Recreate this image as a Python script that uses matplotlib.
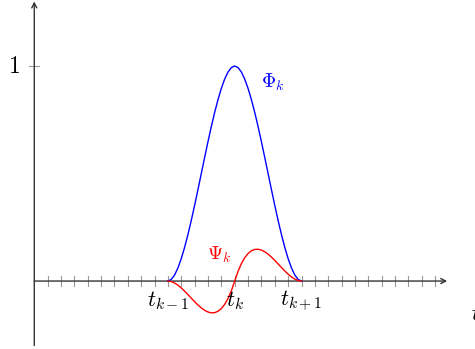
import numpy as np
import matplotlib.pyplot as plt

plt.rcParams['mathtext.fontset'] = 'cm'

# grid nodes t_{k-1}, t_k, t_{k+1}
nodes = [2.0, 3.0, 4.0]
node_labels = [r'$t_{k-1}$', r'$t_k$', r'$t_{k+1}$']

# sample points along [t_{k-1}, t_{k+1}] (step 0.05)
t = np.arange(2.0, 4.0001, 0.05)

# Phi_k
phi = [0.0, 0.00725, 0.028, 0.06075, 0.104, 0.15625, 0.216, 0.28175, 0.352, 0.42525,
       0.5, 0.57475, 0.648, 0.71825, 0.784, 0.84375, 0.896, 0.93925, 0.972, 0.99275,
       1.0,
       0.99275, 0.972, 0.93925, 0.896, 0.84375, 0.784, 0.71825, 0.648, 0.57475, 0.5,
       0.42525, 0.352, 0.28175, 0.216, 0.15625, 0.104, 0.06075, 0.028, 0.00725, 0.0]

# Psi_k
psi = [0.0, -0.002375, -0.009, -0.019125, -0.032, -0.046875, -0.063, -0.079625, -0.096,
       -0.111375, -0.125, -0.136125, -0.144, -0.147875, -0.147, -0.140625, -0.128,
       -0.108375, -0.081, -0.045125,
       0.0,
       0.045125, 0.081, 0.108375, 0.128, 0.140625, 0.147, 0.147875, 0.144, 0.136125,
       0.125, 0.111375, 0.096, 0.079625, 0.063, 0.046875, 0.032, 0.019125, 0.009,
       0.002375, 0.0]

# minor ticks on the t axis
xticks = np.arange(0.2, 6.01, 0.2)

fig = plt.figure(figsize=(4.75, 3.49), dpi=100)
ax = fig.add_axes([0, 0, 1, 1])
ax.set_xlim(-0.513, 6.597)
ax.set_ylim(-0.316, 1.307)
ax.axis('off')

axis_col = '#333333'
# axes with arrows
ax.annotate('', xy=(6.18, 0), xytext=(0, 0),
            arrowprops=dict(arrowstyle='->,head_length=0.35,head_width=0.18',
                            lw=1.0, color=axis_col, shrinkA=0, shrinkB=0))
ax.annotate('', xy=(0, 1.30), xytext=(0, -0.30),
            arrowprops=dict(arrowstyle='->,head_length=0.35,head_width=0.18',
                            lw=1.0, color=axis_col, shrinkA=0, shrinkB=0))

# ticks
for x in xticks:
    ax.plot([x, x], [-0.023, 0.023], color='#999999', lw=0.8, zorder=1)
ax.plot([-0.075, 0.075], [1, 1], color='#999999', lw=0.8)
ax.text(-0.30, 0.967, '$1$', fontsize=17, ha='center', va='baseline')

# curves
ax.plot(t, phi, color='blue', lw=1.0, zorder=3)
ax.plot(t, psi, color='red', lw=1.0, zorder=3)

ax.text(3.40, 0.898, r'$\Phi_k$', color='blue', fontsize=14, ha='left', va='baseline')
ax.text(2.59, 0.098, r'$\Psi_k$', color='red', fontsize=14, ha='left', va='baseline')

for x, lab in zip(nodes, node_labels):
    ax.text(x, -0.116, lab, fontsize=16, ha='center', va='baseline')

ax.text(6.54, -0.18, '$t$', fontsize=16, ha='left', va='baseline')

fig.savefig('out.png', dpi=100)
